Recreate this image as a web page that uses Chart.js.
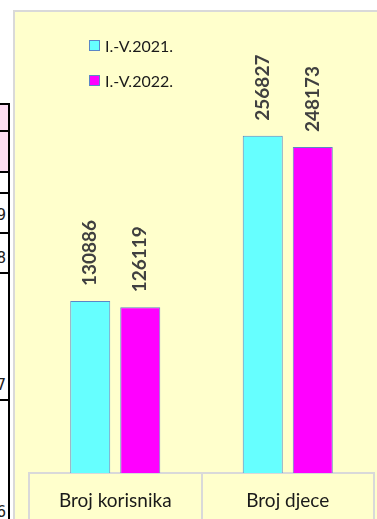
<!doctype html>
<html lang="hr">
<head>
<meta charset="utf-8">
<title>Broj korisnika i djece</title>
<script src="https://cdn.jsdelivr.net/npm/chart.js"></script>
<style>
    html, body { margin: 0; padding: 0; background: #fff; overflow: hidden; width: 377px; height: 519px; }
    body { position: relative; font-family: Lato, "Noto Sans", sans-serif; }
    /* ostatak tablice lijevo */
    #table_edge { position: absolute; left: 0; top: 0; width: 10px; height: 519px; overflow: hidden; }
    #table_edge .vline { position: absolute; left: 8px; top: 103px; width: 2px; height: 420px; background: #000; }
    #table_edge .hline { position: absolute; left: 0; width: 10px; height: 2px; background: #000; }
    #table_edge .pink { position: absolute; left: 0; width: 8px; background: #fcdcf1; }
    #table_edge .num { position: absolute; right: 4px; font: 15px "DejaVu Sans", sans-serif; color: #222; }
    #box {
        position: absolute; left: 13px; top: 10px; width: 400px; height: 520px;
        background: #ffffcc; border-left: 2px solid #d9d9d9; border-top: 2px solid #d9d9d9;
    }
    #legend { position: absolute; left: 0; top: 0; }
    .lg { position: absolute; white-space: nowrap; font-size: 16px; color: #1a1a1a; line-height: 16px; }
    .lg i { position: absolute; left: 0; top: 2px; width: 9px; height: 9px; border: 1px solid #5b86c6; }
    .lg span { position: absolute; left: 16px; top: 0; }
</style>
</head>
<body>
<div id="table_edge">
    <div class="pink" style="top:104px;height:68px"></div>
    <div class="hline" style="top:103px"></div>
    <div class="hline" style="top:130px"></div>
    <div class="hline" style="top:171px"></div>
    <div class="hline" style="top:192px"></div>
    <div class="hline" style="top:232px"></div>
    <div class="hline" style="top:272px"></div>
    <div class="hline" style="top:399px"></div>
    <div class="vline"></div>
    <div class="num" style="top:206px">9</div>
    <div class="num" style="top:249px">8</div>
    <div class="num" style="top:376px">7</div>
    <div class="num" style="top:503px">6</div>
</div>
<div id="box">
    <canvas id="chart" width="400" height="520"></canvas>
    <div id="legend"></div>
</div>
<script>
    const categories = ['Broj korisnika', 'Broj djece'];
    const seriesLabels = ['I.-V.2021.', 'I.-V.2022.'];
    const values2021 = [130886, 256827];
    const values2022 = [126119, 248173];
    const seriesColors = ['#66ffff', '#ff00ff'];
    const yMax = 300000;

    // legenda (HTML)
    const legend = document.getElementById('legend');
    seriesLabels.forEach((lbl, i) => {
        const d = document.createElement('div');
        d.className = 'lg';
        d.style.left = '74px';
        d.style.top = (26 + i * 35) + 'px';
        d.innerHTML = `<i style="background:${seriesColors[i]}"></i><span>${lbl}</span>`;
        legend.appendChild(d);
    });

    // vrijednosti iznad stupaca, okrenute za 90°
    const barLabels = {
        id: 'barLabels',
        afterDatasetsDraw(chart) {
            const ctx = chart.ctx;
            chart.data.datasets.forEach((ds, di) => {
                chart.getDatasetMeta(di).data.forEach((bar, i) => {
                    ctx.save();
                    ctx.translate(bar.x, bar.y - 15);
                    ctx.rotate(-Math.PI / 2);
                    ctx.font = 'bold 19px Lato';
                    ctx.fillStyle = '#404040';
                    ctx.textAlign = 'left';
                    ctx.textBaseline = 'middle';
                    ctx.fillText(String(ds.data[i]), 0, 0);
                    ctx.restore();
                });
            });
        }
    };

    new Chart(document.getElementById('chart'), {
        type: 'bar',
        data: {
            labels: categories,
            datasets: [
                { label: seriesLabels[0], data: values2021, backgroundColor: seriesColors[0] },
                { label: seriesLabels[1], data: values2022, backgroundColor: seriesColors[1] }
            ].map(ds => Object.assign(ds, {
                borderColor: '#5b86c6',
                borderWidth: 1,
                barPercentage: 0.8,
                categoryPercentage: 0.58
            }))
        },
        options: {
            responsive: false,
            animation: false,
            layout: { padding: { left: 14, right: 41, top: 67, bottom: 0 } },
            plugins: {
                legend: { display: false },
                tooltip: { enabled: false }
            },
            scales: {
                x: {
                    afterFit: s => { s.height = 59; },
                    grid: {
                        offset: true,
                        drawOnChartArea: false,
                        tickLength: 60,
                        color: '#d9d9d9',
                        lineWidth: 2
                    },
                    border: { display: true, color: '#d9d9d9', width: 2 },
                    ticks: {
                        padding: -44,
                        color: '#1a1a1a',
                        font: { family: 'Lato', size: 19 }
                    }
                },
                y: {
                    display: false,
                    min: 0,
                    max: yMax
                }
            }
        },
        plugins: [barLabels]
    });
</script>
</body>
</html>
